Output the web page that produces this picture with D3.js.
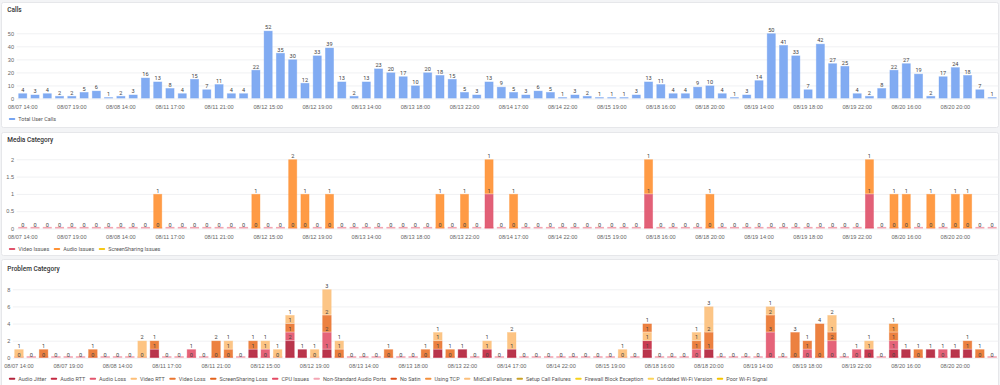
<!DOCTYPE html>
<html><head><meta charset="utf-8">
<script src="https://cdn.jsdelivr.net/npm/d3@7/dist/d3.min.js"></script>
<style>
html,body{margin:0;padding:0;background:#f3f4f6;}
svg{display:block;font-family:Roboto,"Noto Sans",sans-serif;}
</style></head><body>
<svg id="c" width="1000" height="385"></svg>
<script>
const categories = [
"08/07 14:00","08/07 15:00","08/07 16:00","08/07 17:00","08/07 19:00","08/07 20:00","08/07 21:00","08/08 13:00","08/08 14:00","08/08 15:00",
"08/11 14:00","08/11 15:00","08/11 17:00","08/11 18:00","08/11 19:00","08/11 20:00","08/11 21:00","08/11 22:00","08/12 13:00","08/12 14:00",
"08/12 15:00","08/12 16:00","08/12 17:00","08/12 18:00","08/12 19:00","08/12 20:00","08/12 21:00","08/13 13:00","08/13 14:00","08/13 15:00",
"08/13 16:00","08/13 17:00","08/13 18:00","08/13 19:00","08/13 20:00","08/13 21:00","08/13 22:00","08/14 14:00","08/14 15:00","08/14 16:00",
"08/14 17:00","08/14 18:00","08/14 19:00","08/14 21:00","08/14 22:00","08/15 14:00","08/15 16:00","08/15 18:00","08/15 19:00","08/15 21:00",
"08/18 14:00","08/18 15:00","08/18 16:00","08/18 17:00","08/18 18:00","08/18 19:00","08/18 20:00","08/18 21:00","08/18 22:00","08/19 13:00",
"08/19 14:00","08/19 15:00","08/19 16:00","08/19 17:00","08/19 18:00","08/19 19:00","08/19 20:00","08/19 21:00","08/19 22:00","08/19 23:00",
"08/20 13:00","08/20 14:00","08/20 16:00","08/20 17:00","08/20 18:00","08/20 19:00","08/20 20:00","08/20 21:00","08/20 22:00","08/20 23:00"];

// every 4th category is shown as a tick label
const tickLabels = ["08/07 14:00","08/07 19:00","08/08 14:00","08/11 17:00","08/11 21:00","08/12 15:00","08/12 19:00","08/13 14:00","08/13 18:00","08/13 22:00",
"08/14 17:00","08/14 22:00","08/15 19:00","08/18 16:00","08/18 20:00","08/19 14:00","08/19 18:00","08/19 22:00","08/20 16:00","08/20 20:00"];

// Panel 1: Calls
const totalUserCalls = [
4,3,4,2,2,5,6,1,2,3,
16,13,8,4,15,7,11,4,4,22,
52,35,30,12,33,39,13,2,13,23,
20,17,10,20,18,15,5,3,13,9,
5,3,6,5,1,3,2,1,1,1,
3,13,11,4,4,9,10,4,1,3,
14,50,41,33,7,42,27,25,4,2,
8,22,27,19,2,17,24,18,7,1];
const callsTicks = [0,10,20,30,40,50];

// Panel 2: Media Category
const videoIssues = [
0,0,0,0,0,0,0,0,0,0, 0,0,0,0,0,0,0,0,0,0, 0,0,0,0,0,0,0,0,0,0, 0,0,0,0,0,0,0,0,1,0,
0,0,0,0,0,0,0,0,0,0, 0,1,0,0,0,0,0,0,0,0, 0,0,0,0,0,0,0,0,0,1, 0,0,0,0,0,0,0,0,0,0];
const audioIssues = [
0,0,0,0,0,0,0,0,0,0, 0,1,0,0,0,0,0,0,0,1, 0,0,2,1,0,1,0,0,0,0, 0,0,0,0,1,0,1,0,1,0,
1,0,0,0,0,0,0,0,0,0, 0,1,0,0,0,0,1,0,0,0, 0,0,0,0,0,0,0,0,0,1, 0,1,1,0,1,0,1,1,0,0];
const screenSharingIssues = [
0,0,0,0,0,0,0,0,0,0, 0,0,0,0,0,0,0,0,0,0, 0,0,0,0,0,0,0,0,0,0, 0,0,0,0,0,0,0,0,0,0,
0,0,0,0,0,0,0,0,0,0, 0,0,0,0,0,0,0,0,0,0, 0,0,0,0,0,0,0,0,0,0, 0,0,0,0,0,0,0,0,0,0];
const mediaTicks = [0,0.5,1,1.5,2];

// Panel 3: Problem Category
const audioJitter = [
0,0,0,0,0,0,0,0,0,0, 0,1,0,0,0,0,0,0,0,1, 0,0,2,1,0,1,0,0,0,0, 0,0,0,0,1,0,1,0,0,0,
1,0,0,0,0,0,0,0,0,0, 0,1,0,0,0,0,1,0,0,0, 0,0,0,0,0,0,0,0,0,0, 0,0,1,0,1,0,1,1,0,0];
const audioRTT = [
0,0,0,0,0,0,0,0,0,0, 0,0,0,0,0,0,0,0,0,0, 0,0,0,0,0,0,0,0,0,0, 0,0,0,0,0,0,0,0,1,0,
0,0,0,0,0,0,0,0,0,0, 0,1,0,0,0,0,0,0,0,0, 0,0,0,0,0,0,0,0,0,1, 0,1,0,0,0,0,0,0,0,0];
const audioLoss = [
0,0,0,0,0,0,0,0,0,0, 0,0,0,0,1,0,0,0,0,0, 1,0,1,0,0,2,0,0,0,0, 0,0,0,0,0,0,0,0,0,0,
0,0,0,0,0,0,0,0,0,0, 0,0,0,0,0,1,0,0,0,0, 0,3,0,0,1,0,2,0,1,0, 0,1,0,0,0,1,0,0,0,0];
const videoRTT = [
1,0,0,0,0,0,0,0,0,0, 2,0,0,0,0,0,0,0,0,0, 1,1,0,0,1,0,0,0,0,0, 0,0,0,0,0,0,0,0,1,0,
2,0,0,0,0,0,0,0,0,1, 0,1,0,0,0,0,0,0,0,0, 0,0,0,0,0,0,0,0,0,1, 0,0,0,0,0,0,0,0,0,0];
const videoLoss = [
0,0,1,0,0,0,1,0,0,0, 0,1,0,0,0,0,2,1,0,1, 0,0,1,0,0,2,1,0,0,0, 1,0,0,1,1,1,0,0,0,0,
0,0,0,0,0,0,0,0,0,0, 0,1,0,0,0,1,2,0,0,0, 0,2,0,3,1,4,1,0,0,0, 0,1,0,1,0,0,0,1,1,0];
const screenSharingLoss = [
0,0,0,0,0,0,0,0,0,0, 0,0,0,0,0,0,0,0,0,0, 0,0,0,0,0,0,0,0,0,0, 0,0,0,0,0,0,0,0,0,0,
0,0,0,0,0,0,0,0,0,0, 0,0,0,0,0,0,0,0,0,0, 0,0,0,0,0,0,0,0,0,0, 0,0,0,0,0,0,0,0,0,0];
const cpuIssues = [
0,0,0,0,0,0,0,0,0,0, 0,0,0,0,0,0,0,0,0,0, 0,0,0,0,0,0,0,0,0,0, 0,0,0,0,0,0,0,0,0,0,
0,0,0,0,0,0,0,0,0,0, 0,0,0,0,0,0,0,0,0,0, 0,0,0,0,0,0,0,0,0,0, 0,0,0,0,0,0,0,0,0,0];
const nonStandardAudioPorts = [
0,0,0,0,0,0,0,0,0,0, 0,0,0,0,0,0,0,0,0,0, 0,0,0,0,0,0,0,0,0,0, 0,0,0,0,0,0,0,0,0,0,
0,0,0,0,0,0,0,0,0,0, 0,0,0,0,0,0,0,0,0,0, 0,0,0,0,0,0,0,0,0,0, 0,0,0,0,0,0,0,0,0,0];
const noSatin = [
0,0,0,0,0,0,0,0,0,0, 0,0,0,0,0,0,0,0,0,0, 0,0,0,0,0,0,0,0,0,0, 0,0,0,0,0,0,0,0,0,0,
0,0,0,0,0,0,0,0,0,0, 0,0,0,0,0,0,0,0,0,0, 0,0,0,0,0,0,0,0,0,0, 0,0,0,0,0,0,0,0,0,0];
const usingTCP = [
0,0,0,0,0,0,0,0,0,0, 0,0,0,0,0,0,0,0,0,0, 0,0,0,0,0,0,0,0,0,0, 0,0,0,0,0,0,0,0,0,0,
0,0,0,0,0,0,0,0,0,0, 0,0,0,0,0,0,0,0,0,0, 0,0,0,0,0,0,0,0,0,0, 0,1,0,0,0,0,0,0,0,0];
const midCallFailures = [
0,0,0,0,0,0,0,0,0,0, 0,0,0,0,0,0,0,1,0,0, 0,0,1,0,0,3,1,0,0,0, 0,0,0,0,1,0,0,0,0,0,
0,0,0,0,0,0,0,0,0,0, 0,0,0,0,0,1,3,0,0,0, 0,1,0,0,0,0,2,0,0,0, 0,0,0,0,0,0,0,0,0,0];
const setupCallFailures = [
0,0,0,0,0,0,0,0,0,0, 0,0,0,0,0,0,0,0,0,0, 0,0,0,0,0,0,0,0,0,0, 0,0,0,0,0,0,0,0,0,0,
0,0,0,0,0,0,0,0,0,0, 0,0,0,0,0,0,0,0,0,0, 0,0,0,0,0,0,0,0,0,0, 0,0,0,0,0,0,0,0,0,0];
const firewallBlockException = [
0,0,0,0,0,0,0,0,0,0, 0,0,0,0,0,0,0,0,0,0, 0,0,0,0,0,0,0,0,0,0, 0,0,0,0,0,0,0,0,0,0,
0,0,0,0,0,0,0,0,0,0, 0,0,0,0,0,0,0,0,0,0, 0,0,0,0,0,0,0,0,0,0, 0,0,0,0,0,0,0,0,0,0];
const outdatedWiFiVersion = [
0,0,0,0,0,0,0,0,0,0, 0,0,0,0,0,0,0,0,0,0, 0,0,0,0,0,0,0,0,0,0, 0,0,0,0,0,0,0,0,0,0,
0,0,0,0,0,0,0,0,0,0, 0,0,0,0,0,0,0,0,0,0, 0,0,0,0,0,0,0,0,0,0, 0,0,0,0,0,0,0,0,0,0];
const poorWiFiSignal = [
0,0,0,0,0,0,0,0,0,0, 0,0,0,0,0,0,0,0,0,0, 0,0,0,0,0,0,0,0,0,0, 0,0,0,0,0,0,0,0,0,0,
0,0,0,0,0,0,0,0,0,0, 0,0,0,0,0,0,0,0,0,0, 0,0,0,0,0,0,0,0,0,0, 0,0,0,0,0,0,0,0,0,0];
const problemTicks = [0,2,4,6,8];

const callsSeries = [{name:"Total User Calls", values: totalUserCalls, color:"#76a4f1"}];
const mediaSeries = [
  {name:"Video Issues", values: videoIssues, color:"#e0536b"},
  {name:"Audio Issues", values: audioIssues, color:"#ff9235"},
  {name:"ScreenSharing Issues", values: screenSharingIssues, color:"#f6c817"}];
const problemSeries = [
  {name:"Audio Jitter", values: audioJitter, color:"#b3243d"},
  {name:"Audio RTT", values: audioRTT, color:"#c42a42"},
  {name:"Audio Loss", values: audioLoss, color:"#e3566e"},
  {name:"Video RTT", values: videoRTT, color:"#fdbf78"},
  {name:"Video Loss", values: videoLoss, color:"#ea7630"},
  {name:"ScreenSharing Loss", values: screenSharingLoss, color:"#e2631c"},
  {name:"CPU Issues", values: cpuIssues, color:"#e44a64"},
  {name:"Non-Standard Audio Ports", values: nonStandardAudioPorts, color:"#f4a6b4"},
  {name:"No Satin", values: noSatin, color:"#dd4f1a"},
  {name:"Using TCP", values: usingTCP, color:"#f3903c"},
  {name:"MidCall Failures", values: midCallFailures, color:"#fcc07c"},
  {name:"Setup Call Failures", values: setupCallFailures, color:"#c9a227"},
  {name:"Firewall Block Exception", values: firewallBlockException, color:"#f6d21d"},
  {name:"Outdated Wi-Fi Version", values: outdatedWiFiVersion, color:"#fbd35a"},
  {name:"Poor Wi-Fi Signal", values: poorWiFiSignal, color:"#f5c400"}];

const svg = d3.select("#c");
const FS = 5.6;
const LFS = 5.45;

function panel(cfg){
  const g = svg.append("g");
  g.append("rect").attr("x",1.5).attr("y",cfg.top).attr("width",997).attr("height",cfg.height)
    .attr("fill","#fff").attr("stroke","#e6e7ea").attr("rx",2);
  g.append("text").attr("x",7.3).attr("y",cfg.titleY).text(cfg.title)
    .attr("font-size",6.5).attr("font-weight",500).attr("fill","#333");

  const x = d3.scaleBand().domain(categories).range([cfg.left, 998.3])
    .paddingInner(cfg.pad).paddingOuter(cfg.pad/2);
  const y = d3.scaleLinear().domain(cfg.domain).range(cfg.range);

  // grid + y labels
  const yAxis = d3.axisLeft(y).tickValues(cfg.ticks).tickFormat(d3.format("~g"))
    .tickSize(-(998.3-cfg.left)).tickPadding(2.5);
  const ya = g.append("g").attr("transform",`translate(${cfg.left},0)`).call(yAxis);
  ya.select(".domain").remove();
  ya.selectAll(".tick line").attr("stroke","#f0f1f3");
  ya.selectAll(".tick text").attr("font-size",FS).attr("fill","#666").attr("font-family",null);

  // x labels
  const xAxis = d3.axisBottom(x).tickValues(tickLabels).tickSize(0).tickPadding(6.5);
  const xa = g.append("g").attr("transform",`translate(0,${cfg.range[0]})`).call(xAxis);
  xa.select(".domain").remove();
  xa.selectAll(".tick text").attr("font-size",FS).attr("fill","#666").attr("font-family",null);

  const series = cfg.series;
  const stacked = series.length > 1;
  const bw = x.bandwidth();

  // zero markers
  if (stacked) {
    g.append("g").selectAll("rect").data(categories).join("rect")
      .attr("x",d=>x(d)).attr("width",bw)
      .attr("y",y(0)-1.6).attr("height",1.6)
      .attr("fill","#f3a5b2");
  }
  const stack = d3.stack().keys(series.map((s,i)=>i)).value((d,k)=>series[k].values[d]);
  const idx = categories.map((c,i)=>i);
  const layers = stack(idx);
  const barG = g.append("g");
  layers.forEach((layer,k)=>{
    barG.append("g").selectAll("rect").data(layer.filter(d=>d[1]-d[0]>0)).join("rect")
      .attr("x",d=>x(categories[d.data])+0.4).attr("width",bw-0.8)
      .attr("y",d=>y(d[1])+0.4).attr("height",d=>y(d[0])-y(d[1])-0.8)
      .attr("fill",series[k].color).attr("fill-opacity",0.92)
      .attr("stroke",series[k].color).attr("stroke-opacity",0.45).attr("stroke-width",0.8);
  });
  const labG = g.append("g");
  layers.forEach((layer,k)=>{
    const pts = layer.filter(d=> (d[1]-d[0]>0) || k===0);
    labG.append("g").selectAll("text").data(pts).join("text")
      .attr("x",d=>x(categories[d.data])+bw/2)
      .attr("y",d=>y(d[1])-1.3)
      .attr("text-anchor","middle").attr("font-size",FS).attr("fill","#444")
      .text(d=>series[k].values[d.data]);
  });

  // legend
  const lg = g.append("g");
  let lx = 8.8;
  series.forEach(s=>{
    lg.append("rect").attr("x",lx).attr("y",cfg.legendY-1).attr("width",6.5).attr("height",2).attr("rx",1).attr("fill",s.color);
    const t = lg.append("text").attr("x",lx+9.5).attr("y",cfg.legendY+2).attr("font-size",LFS).attr("fill","#555").text(s.name);
    lx = lx + 9.5 + t.node().getComputedTextLength() + 4.4;
  });
}

panel({top:2.5,height:125,title:"Calls",titleY:11.5,left:16.6,pad:0.27,
  domain:[0,50],range:[98.5,33.3],ticks:callsTicks,series:callsSeries,legendY:119});
panel({top:132.5,height:123,title:"Media Category",titleY:141.6,left:16.6,pad:0.27,
  domain:[0,2],range:[228.5,159.3],ticks:mediaTicks,series:mediaSeries,legendY:249});
panel({top:259.5,height:130,title:"Problem Category",titleY:271.4,left:12.8,pad:0.24,
  domain:[0,8],range:[357.8,289.3],ticks:problemTicks,series:problemSeries,legendY:378.7});
</script>
</body></html>
